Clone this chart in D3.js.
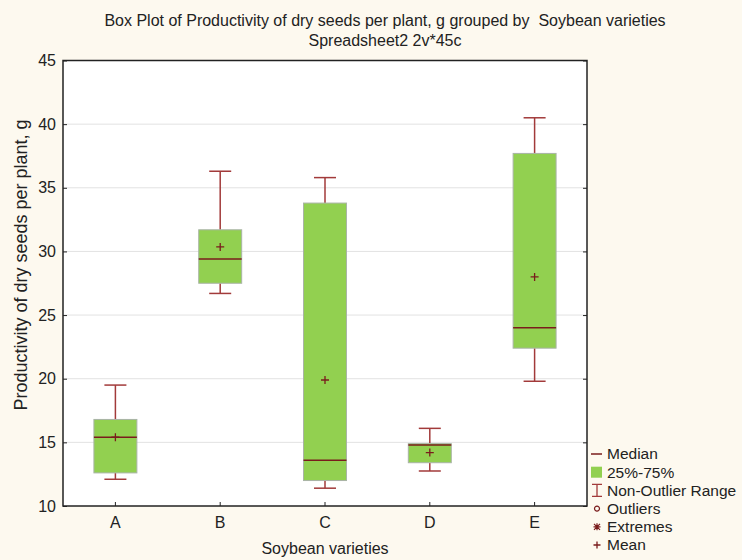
<!DOCTYPE html>
<html>
<head>
<meta charset="utf-8">
<script src="https://cdn.jsdelivr.net/npm/d3@7"></script>
<style>
  body { margin: 0; background: #fdf9ef; }
  svg { display: block; font-family: "Liberation Sans", Arial, sans-serif; }
</style>
</head>
<body>
<svg id="chart"></svg>
<script>
// values
const categories = ["A", "B", "C", "D", "E"];
const mins = [12.1, 26.7, 11.4, 12.75, 19.8];
const q1 = [12.6, 27.5, 12.0, 13.4, 22.4];
const medians = [15.4, 29.4, 13.6, 14.8, 24.0];
const q3 = [16.8, 31.7, 33.8, 14.9, 37.7];
const maxs = [19.5, 36.3, 35.8, 16.1, 40.5];
const means = [15.4, 30.35, 19.9, 14.2, 28.0];
const yTicks = [10, 15, 20, 25, 30, 35, 40, 45];
const legendItems = ["Median", "25%-75%", "Non-Outlier Range", "Outliers", "Extremes", "Mean"];

const width = 742;
const height = 560;
const margin = { top: 60.5, right: 155, bottom: 54, left: 63 };

const boxFill = "#92d050";
const whiskerColor = "#a23a3a";
const medianColor = "#7a1c1c";

const data = categories.map((c, i) => ({
  cat: c, min: mins[i], q1: q1[i], med: medians[i], q3: q3[i], max: maxs[i], mean: means[i]
}));

const svg = d3.select("#chart").attr("width", width).attr("height", height);

const x = d3.scaleBand()
  .domain(categories)
  .range([margin.left, width - margin.right])
  .padding(0);

const y = d3.scaleLinear()
  .domain([10, 45])
  .range([height - margin.bottom, margin.top]);

// plot background
svg.append("rect")
  .attr("x", margin.left)
  .attr("y", margin.top)
  .attr("width", width - margin.right - margin.left)
  .attr("height", height - margin.bottom - margin.top)
  .attr("fill", "#fff");

// grid
svg.append("g")
  .selectAll("line")
  .data(yTicks.slice(1, -1))
  .enter()
  .append("line")
  .attr("x1", margin.left)
  .attr("x2", width - margin.right)
  .attr("y1", (d) => y(d))
  .attr("y2", (d) => y(d))
  .attr("stroke", "#e2e2e2")
  .attr("stroke-width", 1);

const boxW = x.bandwidth() * 0.41;
const capW = x.bandwidth() * 0.21;

const g = svg.append("g")
  .selectAll("g")
  .data(data)
  .enter()
  .append("g")
  .attr("transform", (d) => `translate(${x(d.cat) + x.bandwidth() / 2},0)`);

// whiskers
g.append("line")
  .attr("x1", 0).attr("x2", 0)
  .attr("y1", (d) => y(d.max)).attr("y2", (d) => y(d.q3))
  .attr("stroke", whiskerColor).attr("stroke-width", 1.5);
g.append("line")
  .attr("x1", 0).attr("x2", 0)
  .attr("y1", (d) => y(d.q1)).attr("y2", (d) => y(d.min))
  .attr("stroke", whiskerColor).attr("stroke-width", 1.5);
g.append("line")
  .attr("x1", -capW / 2).attr("x2", capW / 2)
  .attr("y1", (d) => y(d.max)).attr("y2", (d) => y(d.max))
  .attr("stroke", whiskerColor).attr("stroke-width", 1.5);
g.append("line")
  .attr("x1", -capW / 2).attr("x2", capW / 2)
  .attr("y1", (d) => y(d.min)).attr("y2", (d) => y(d.min))
  .attr("stroke", whiskerColor).attr("stroke-width", 1.5);

// boxes
g.append("rect")
  .attr("x", -boxW / 2)
  .attr("width", boxW)
  .attr("y", (d) => y(d.q3))
  .attr("height", (d) => y(d.q1) - y(d.q3))
  .attr("fill", boxFill)
  .attr("stroke", "#a9b4a6")
  .attr("stroke-width", 1);

// median
g.append("line")
  .attr("x1", -boxW / 2).attr("x2", boxW / 2)
  .attr("y1", (d) => y(d.med)).attr("y2", (d) => y(d.med))
  .attr("stroke", medianColor).attr("stroke-width", 1.5);

// mean
g.append("path")
  .attr("d", (d) => `M-4,${y(d.mean)}h8M0,${y(d.mean) - 4}v8`)
  .attr("stroke", medianColor).attr("stroke-width", 1.3);

// axes
const yAxis = d3.axisLeft(y).tickValues(yTicks).tickSize(-4).tickPadding(7);
svg.append("g")
  .attr("transform", `translate(${margin.left},0)`)
  .call(yAxis)
  .call((s) => s.select(".domain").remove())
  .selectAll("text")
  .style("font-size", "16px")
  .attr("fill", "#222");

const yRight = d3.axisRight(y).tickValues(yTicks).tickSize(-4).tickFormat("");
svg.append("g")
  .attr("transform", `translate(${width - margin.right},0)`)
  .call(yRight)
  .call((s) => s.select(".domain").remove());

const xAxis = d3.axisBottom(x).tickSize(-4).tickPadding(11);
svg.append("g")
  .attr("transform", `translate(0,${height - margin.bottom})`)
  .call(xAxis)
  .call((s) => s.select(".domain").remove())
  .selectAll("text")
  .style("font-size", "16px")
  .attr("fill", "#222");

svg.selectAll(".tick line").attr("stroke", "#222");

// frame
svg.append("rect")
  .attr("x", margin.left)
  .attr("y", margin.top)
  .attr("width", width - margin.right - margin.left)
  .attr("height", height - margin.bottom - margin.top)
  .attr("fill", "none")
  .attr("stroke", "#222")
  .attr("stroke-width", 1.5);

// titles
svg.append("text")
  .attr("x", 385).attr("y", 26)
  .attr("text-anchor", "middle")
  .attr("xml:space", "preserve")
  .style("font-size", "16px").attr("fill", "#222")
  .text("Box Plot of Productivity of dry seeds per plant, g grouped by  Soybean varieties");
svg.append("text")
  .attr("x", 385).attr("y", 46)
  .attr("text-anchor", "middle")
  .style("font-size", "16px").attr("fill", "#222")
  .text("Spreadsheet2 2v*45c");

svg.append("text")
  .attr("x", (margin.left + width - margin.right) / 2)
  .attr("y", 554)
  .attr("text-anchor", "middle")
  .style("font-size", "16px").attr("fill", "#222")
  .text("Soybean varieties");

svg.append("text")
  .attr("transform", `translate(27,265) rotate(-90)`)
  .attr("text-anchor", "middle")
  .style("font-size", "18px").attr("fill", "#222")
  .text("Productivity of dry seeds per plant, g");

// legend
const legend = svg.append("g").attr("transform", "translate(597,454)");
const item = legend.selectAll("g")
  .data(legendItems)
  .enter()
  .append("g")
  .attr("transform", (d, i) => `translate(0,${i * 18.2})`);

item.append("text")
  .attr("x", 10)
  .attr("dy", "0.35em")
  .style("font-size", "15.5px")
  .attr("fill", "#222")
  .text((d) => d);

item.each(function (d) {
  const s = d3.select(this);
  if (d === "Median") {
    s.append("line").attr("x1", -6).attr("x2", 5).attr("stroke", medianColor).attr("stroke-width", 1.5);
  } else if (d === "25%-75%") {
    s.append("rect").attr("x", -6).attr("y", -5.5).attr("width", 11).attr("height", 11).attr("fill", boxFill);
  } else if (d === "Non-Outlier Range") {
    s.append("path").attr("d", "M-5,-6h10M-5,6h10M0,-6v12").attr("stroke", whiskerColor).attr("stroke-width", 1.3).attr("fill", "none");
  } else if (d === "Outliers") {
    s.append("circle").attr("r", 2.5).attr("fill", "none").attr("stroke", medianColor).attr("stroke-width", 1.2);
  } else if (d === "Extremes") {
    s.append("path").attr("d", "M-3.5,0h7M0,-3.5v7M-3,-3l6,6M-3,3l6,-6").attr("stroke", medianColor).attr("stroke-width", 1.2);
  } else {
    s.append("path").attr("d", "M-3.5,0h7M0,-3.5v7").attr("stroke", medianColor).attr("stroke-width", 1.3);
  }
});
</script>
</body>
</html>
